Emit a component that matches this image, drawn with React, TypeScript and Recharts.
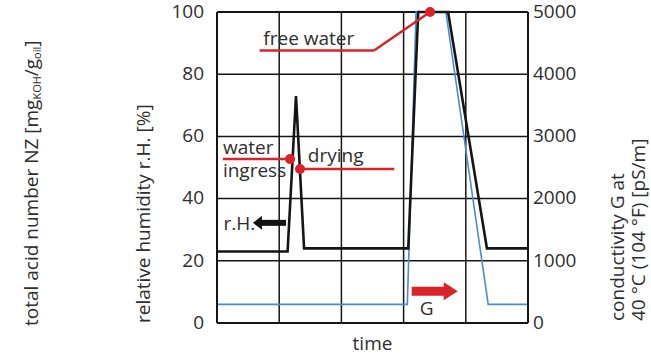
import React from 'react';
import {
  CartesianGrid,
  Line,
  LineChart,
  ReferenceDot,
  ReferenceLine,
  XAxis,
  YAxis,
} from 'recharts';

// time axis is arbitrary (0..100), r.H. in %, G in pS/m
const RH_TIME = [0, 22.7, 25.4, 28.0, 61.5, 64.7, 74.3, 86.8, 100];
const RH_VALUES = [23, 23, 73, 24, 24, 100, 100, 24, 24];

const G_TIME = [0, 61.2, 64.0, 73.6, 87.2, 100];
const G_VALUES = [300, 300, 5000, 5000, 300, 300];

const TIME_TICKS = [0, 20, 40, 60, 80, 100];
const RH_TICKS = [0, 20, 40, 60, 80, 100];
const G_TICKS = [0, 1000, 2000, 3000, 4000, 5000];

// annotation anchors in data space (time, r.H.)
const FREE_WATER_PATH = [
  { x: 13.7, y: 87.6 },
  { x: 50.5, y: 87.6 },
  { x: 68.5, y: 100 },
];
const INGRESS_PATH = [
  { x: 1.9, y: 52.7 },
  { x: 23.5, y: 52.7 },
];
const DRYING_PATH = [
  { x: 26.7, y: 49.5 },
  { x: 57.0, y: 49.5 },
];
const RH_ARROW = { from: 22.2, to: 11.55, y: 32.2 };
const G_ARROW = { from: 62.6, to: 77.4, y: 10.2 };

const NOTES = [
  { text: 'free water', x: 14.9, y: 89.5 },
  { text: 'water', x: 1.9, y: 54.3 },
  { text: 'ingress', x: 1.9, y: 46.8 },
  { text: 'drying', x: 29.2, y: 51.9 },
  { text: 'r.H.', x: 2.1, y: 30.0 },
  { text: 'G', x: 65.2, y: 2.7 },
];

const rhData = RH_TIME.map((t, i) => ({ t, rh: RH_VALUES[i] }));
const gData = G_TIME.map((t, i) => ({ t, g: G_VALUES[i] }));

const FONT = '"Open Sans", "Noto Sans", sans-serif';
const TEXT = '#2e2e2e';
const RED = '#d9232b';
const BLUE = '#4a8bd4';
const INK = '#151515';

function LeftTitles({ viewBox }: any) {
  const { x, y, height } = viewBox;
  const outerX = x + 31;
  const innerX = x + 143;
  const outerBottom = y + height + 3;
  const innerBottom = y + height;
  return (
    <g fontFamily={FONT} fontSize={19} fill={TEXT}>
      <text
        x={outerX}
        y={outerBottom}
        dominantBaseline="central"
        transform={`rotate(-90 ${outerX} ${outerBottom})`}
      >
        total acid number NZ [mg
        <tspan fontSize={11} dy={5}>KOH</tspan>
        <tspan dy={-5}>/g</tspan>
        <tspan fontSize={11} dy={5}>oil</tspan>
        <tspan dy={-5}>]</tspan>
      </text>
      <text
        x={innerX}
        y={innerBottom}
        dominantBaseline="central"
        transform={`rotate(-90 ${innerX} ${innerBottom})`}
      >
        relative humidity r.H. [%]
      </text>
    </g>
  );
}

function RightTitles({ viewBox }: any) {
  const { x, y, height } = viewBox;
  const bottom = y + height - 2;
  const line1 = x + 89;
  const line2 = x + 110;
  return (
    <g fontFamily={FONT} fontSize={19} fill={TEXT}>
      <text x={line1} y={bottom} dominantBaseline="central" transform={`rotate(-90 ${line1} ${bottom})`}>
        conductivity G at
      </text>
      <text x={line2} y={bottom} dominantBaseline="central" transform={`rotate(-90 ${line2} ${bottom})`}>
        40 °C (104 °F) [pS/m]
      </text>
    </g>
  );
}

function TimeTitle({ viewBox }: any) {
  const { x, y, width } = viewBox;
  return (
    <text x={x + width / 2} y={y + 27} textAnchor="middle" fontFamily={FONT} fontSize={19} fill={TEXT}>
      time
    </text>
  );
}

const noteLabel = (text: string) => ({ viewBox }: any) => (
  <text x={viewBox.x} y={viewBox.y} fontFamily={FONT} fontSize={19} fill={TEXT}>
    {text}
  </text>
);

const leftHead = ({ cx, cy }: any) => (
  <polygon points={`${cx},${cy} ${cx + 9},${cy - 7} ${cx + 9},${cy + 7}`} fill={INK} />
);

const rightHead = ({ cx, cy }: any) => (
  <polygon points={`${cx},${cy} ${cx - 14},${cy - 9} ${cx - 14},${cy + 9}`} fill={RED} />
);

const noShape = () => <g />;

export default function App() {
  const tickStyle = { fontSize: 19, fill: TEXT, fontFamily: FONT, dy: -1 };

  return (
    <div style={{ position: 'absolute', left: 0, top: 0 }}>
      <LineChart width={651} height={356} margin={{ top: 12, right: 0, bottom: 0, left: 0 }}>
        <CartesianGrid yAxisId="rh" vertical={false} stroke={INK} strokeWidth={1.5} />
        <XAxis
          type="number"
          dataKey="t"
          domain={[0, 100]}
          ticks={TIME_TICKS}
          tick={false}
          tickLine={false}
          axisLine={{ stroke: INK, strokeWidth: 2 }}
          height={33}
          label={{ content: (p: any) => <TimeTitle {...p} /> }}
        />
        <YAxis
          yAxisId="rh"
          domain={[0, 100]}
          ticks={RH_TICKS}
          width={217}
          tickSize={0}
          tickMargin={13}
          tick={tickStyle}
          axisLine={{ stroke: INK, strokeWidth: 2 }}
          label={{ content: (p: any) => <LeftTitles {...p} /> }}
        />
        <YAxis
          yAxisId="g"
          orientation="right"
          domain={[0, 5000]}
          ticks={G_TICKS}
          width={123}
          tickSize={0}
          tickMargin={5}
          tick={tickStyle}
          axisLine={{ stroke: INK, strokeWidth: 2 }}
          label={{ content: (p: any) => <RightTitles {...p} /> }}
        />
        {TIME_TICKS.map((t) => (
          <ReferenceLine key={`vx-${t}`} yAxisId="rh" x={t} stroke={INK} strokeWidth={1.5} />
        ))}
        <ReferenceLine yAxisId="rh" y={100} stroke={INK} strokeWidth={2} />

        <Line
          yAxisId="g"
          data={gData}
          dataKey="g"
          type="linear"
          stroke={BLUE}
          strokeWidth={1.6}
          dot={false}
          isAnimationActive={false}
        />
        <Line
          yAxisId="rh"
          data={rhData}
          dataKey="rh"
          type="linear"
          stroke={INK}
          strokeWidth={2.6}
          dot={false}
          isAnimationActive={false}
        />

        {/* red callouts */}
        <ReferenceLine yAxisId="rh" segment={[FREE_WATER_PATH[0], FREE_WATER_PATH[1]]} stroke={RED} strokeWidth={2.5} />
        <ReferenceLine yAxisId="rh" segment={[FREE_WATER_PATH[1], FREE_WATER_PATH[2]]} stroke={RED} strokeWidth={2.5} ifOverflow="visible" />
        <ReferenceDot yAxisId="rh" x={FREE_WATER_PATH[2].x} y={FREE_WATER_PATH[2].y} r={5} fill={RED} stroke="none" ifOverflow="visible" />
        <ReferenceLine yAxisId="rh" segment={[INGRESS_PATH[0], INGRESS_PATH[1]]} stroke={RED} strokeWidth={2.5} />
        <ReferenceDot yAxisId="rh" x={INGRESS_PATH[1].x} y={INGRESS_PATH[1].y} r={5} fill={RED} stroke="none" />
        <ReferenceLine yAxisId="rh" segment={[DRYING_PATH[0], DRYING_PATH[1]]} stroke={RED} strokeWidth={2.5} />
        <ReferenceDot yAxisId="rh" x={DRYING_PATH[0].x} y={DRYING_PATH[0].y} r={5} fill={RED} stroke="none" />

        {/* direction arrows */}
        <ReferenceLine
          yAxisId="rh"
          segment={[{ x: RH_ARROW.from, y: RH_ARROW.y }, { x: RH_ARROW.to + 1.5, y: RH_ARROW.y }]}
          stroke={INK}
          strokeWidth={6}
        />
        <ReferenceDot yAxisId="rh" x={RH_ARROW.to} y={RH_ARROW.y} r={1} shape={leftHead} />
        <ReferenceLine
          yAxisId="rh"
          segment={[{ x: G_ARROW.from, y: G_ARROW.y }, { x: G_ARROW.to - 3, y: G_ARROW.y }]}
          stroke={RED}
          strokeWidth={9}
        />
        <ReferenceDot yAxisId="rh" x={G_ARROW.to} y={G_ARROW.y} r={1} shape={rightHead} />

        {NOTES.map((n) => (
          <ReferenceDot
            key={n.text}
            yAxisId="rh"
            x={n.x}
            y={n.y}
            r={0}
            shape={noShape}
            label={{ content: noteLabel(n.text) }}
          />
        ))}
      </LineChart>
    </div>
  );
}
